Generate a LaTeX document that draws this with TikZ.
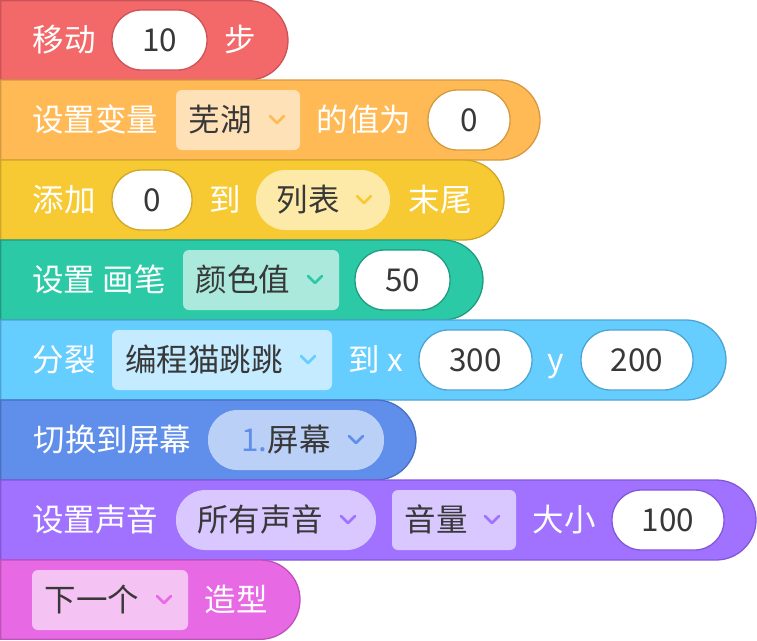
\documentclass[tikz,border=0pt]{standalone}
\usepackage{fontspec}
\setmainfont{Noto Sans CJK SC}
\definecolor{txt}{HTML}{383838}
\definecolor{cr}{HTML}{F36868}
\definecolor{cre}{HTML}{CC5358}
\definecolor{co}{HTML}{FFBA55}
\definecolor{coe}{HTML}{D49A40}
\definecolor{cod}{HTML}{FFE1B8}
\definecolor{cy}{HTML}{F7CA33}
\definecolor{cye}{HTML}{D0A628}
\definecolor{cyd}{HTML}{FDEAA8}
\definecolor{cg}{HTML}{2CC9A6}
\definecolor{cge}{HTML}{1F9C80}
\definecolor{cgd}{HTML}{AAE9DB}
\definecolor{cl}{HTML}{66CDFF}
\definecolor{cle}{HTML}{4CA4D2}
\definecolor{cld}{HTML}{C4EBFF}
\definecolor{cb}{HTML}{5F8FEA}
\definecolor{cbe}{HTML}{4970C2}
\definecolor{cbd}{HTML}{BBD0F7}
\definecolor{cp}{HTML}{A072FF}
\definecolor{cpe}{HTML}{8357DA}
\definecolor{cpd}{HTML}{D9C7FF}
\definecolor{ck}{HTML}{E76AE4}
\definecolor{cke}{HTML}{BF50BC}
\definecolor{ckd}{HTML}{F4C3F3}
\newcommand\fsz{\fontsize{31.5}{36}\selectfont}
\newcommand\nsz{\fontsize{31.5}{36}\selectfont}
\tikzset{
 blk/.style={line width=1.3pt},
 lbl/.style={text=white, inner sep=0pt, font=\fsz, text height=23pt, text depth=0pt},
 oval/.style={fill=white, line width=1.3pt, rounded corners=29.5pt, minimum height=60pt, inner sep=0pt, text=txt, font=\nsz, text height=23pt, text depth=0pt},
 ddbox/.style={rounded corners=6pt, minimum height=60pt, inner sep=0pt},
 pillbox/.style={rounded corners=29.5pt, minimum height=60pt, inner sep=0pt},
 ddtxt/.style={text=txt, inner sep=0pt, font=\fsz, text height=23pt, text depth=0pt},
 chev/.style={line width=2.6pt, line cap=round, line join=round},
}
% #1 top, #2 right x, #3 fill, #4 edge, #5 height
\newcommand\blkshape[5]{\filldraw[blk, fill=#3, draw=#4] (0.7,#1) -- (#2-#5/2,#1) arc[start angle=-90, end angle=90, radius=#5/2] -- (0.7,#1+#5) -- cycle;}
% #1 center x, #2 center y, #3 colour
\newcommand\chv[3]{\draw[chev, draw=#3] (#1-7,#2-4) -- (#1,#2+3) -- (#1+7,#2-4);}
\begin{document}
\begin{tikzpicture}[x=1pt,y=-1pt]
\useasboundingbox (0,0) rectangle (757,640);
% block 1
\blkshape{0.7}{288}{cr}{cre}{79.3}
\node[lbl] (t1a) at (64,40) {移动};
\node[oval, draw=cre, minimum width=95pt] (v1) at (159.5,40) {10};
\node[lbl] (t1b) at (240,40) {步};
% block 2
\blkshape{80}{540}{co}{coe}{80}
\node[lbl] (t2a) at (95,120) {设置变量};
\node[ddbox, fill=cod, minimum width=124pt] (d2) at (238,120) {};
\node[ddtxt] (d2t) at (220,120) {芜湖};
\chv{277}{120}{co}
\node[lbl] (t2b) at (364,120) {的值为};
\node[oval, draw=coe, minimum width=82pt] (v2) at (469,120) {0};
% block 3
\blkshape{160}{504}{cy}{cye}{80}
\node[lbl] (t3a) at (64,200) {添加};
\node[oval, draw=cye, minimum width=80pt] (v3) at (152,200) {0};
\node[lbl] (t3b) at (225,200) {到};
\node[pillbox, fill=cyd, minimum width=134pt] (d3) at (323,200) {};
\node[ddtxt] (d3t) at (308,200) {列表};
\chv{364}{200}{cy}
\node[lbl] (t3c) at (440,200) {末尾};
% block 4
\blkshape{240}{483}{cg}{cge}{80}
\node[lbl] (t4a) at (99,280) {设置 画笔};
\node[ddbox, fill=cgd, minimum width=156pt] (d4) at (261,280) {};
\node[ddtxt] (d4t) at (243,280) {颜色值};
\chv{315}{280}{cg}
\node[oval, draw=cge, minimum width=95pt] (v4) at (402.5,280) {50};
% block 5
\blkshape{320}{726}{cl}{cle}{80}
\node[lbl] (t5a) at (64,360) {分裂};
\node[ddbox, fill=cld, minimum width=220pt] (d5) at (222,360) {};
\node[ddtxt] (d5t) at (204,360) {编程猫跳跳};
\chv{308}{360}{cl}
\node[lbl] (t5b) at (364.5,360) {到};
\node[lbl, font=\nsz] (t5x) at (395.5,360) {x};
\node[oval, draw=cle, minimum width=113pt] (v5a) at (475.5,360) {300};
\node[lbl, font=\nsz] (t5c) at (556,360) {y};
\node[oval, draw=cle, minimum width=112pt] (v5b) at (637,360) {200};
% block 6
\blkshape{400}{416}{cb}{cbe}{80}
\node[lbl] (t6a) at (112.5,440) {切换到屏幕};
\node[pillbox, fill=cbd, minimum width=176pt] (d6) at (296,440) {};
\node[ddtxt] (d6t) at (286,440) {\textcolor{cb}{\nsz 1.}屏幕};
\chv{356}{440}{cb}
% block 7
\blkshape{480}{756}{cp}{cpe}{80}
\node[lbl] (t7a) at (95,520) {设置声音};
\node[pillbox, fill=cpd, minimum width=200pt] (d7a) at (276,520) {};
\node[ddtxt] (d7at) at (260,520) {所有声音};
\chv{348}{520}{cp}
\node[ddbox, fill=cpd, minimum width=124pt] (d7b) at (454,520) {};
\node[ddtxt] (d7bt) at (436,520) {音量};
\chv{492}{520}{cp}
\node[lbl] (t7b) at (564,520) {大小};
\node[oval, draw=cpe, minimum width=112pt] (v7) at (668,520) {100};
% block 8
\blkshape{560}{300}{ck}{cke}{79.3}
\node[ddbox, fill=ckd, minimum width=156pt] (d8) at (110,600) {};
\node[ddtxt] (d8t) at (92,600) {下一个};
\chv{164}{600}{ck}
\node[lbl] (t8a) at (236,600) {造型};
\end{tikzpicture}
\end{document}
